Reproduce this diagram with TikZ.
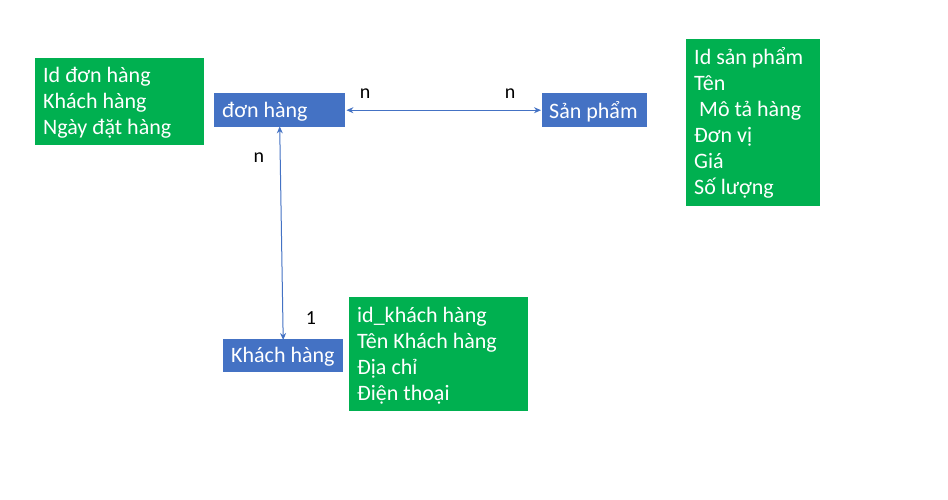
\documentclass[tikz,border=0pt]{standalone}
\usepackage{fontspec}
\setmainfont{Carlito}
\usetikzlibrary{arrows.meta}
\definecolor{gfill}{HTML}{00B050}
\definecolor{bfill}{HTML}{4472C4}
\begin{document}
\begin{tikzpicture}[x=1pt,y=-1pt,
  gbox/.style={fill=gfill,draw=none,anchor=north west,inner sep=0pt},
  bbox/.style={fill=bfill,draw=none,anchor=north west,inner sep=0pt},
  btext/.style={text=white,anchor=west,inner sep=0pt,font=\fontsize{22}{26}\selectfont},
  gtext/.style={text=white,align=left,anchor=west,inner sep=0pt,font=\fontsize{22}{26}\selectfont},
  lbl/.style={text=black,inner sep=0pt,font=\fontsize{20}{24}\selectfont},
  conn/.style={draw=bfill,line width=1pt,{Stealth[length=7pt,width=6pt]}-{Stealth[length=7pt,width=6pt]}}
]
\useasboundingbox (0,0) rectangle (948,499);
\fill[white] (0,0) rectangle (948,499);
% green attribute boxes
\node[gbox,minimum width=169pt,minimum height=87pt] (g1) at (35,58) {};
\node[gtext] (t1) at (43,103) {Id đơn hàng\\Khách hàng\\Ngày đặt hàng};
\node[gbox,minimum width=134pt,minimum height=167pt] (g2) at (686,39) {};
\node[gtext] (t2) at (694,123) {Id sản phẩm\\Tên\\\hspace{5pt}Mô tả hàng\\Đơn vị\\Giá\\Số lượng};
\node[gbox,minimum width=179pt,minimum height=114pt] (g3) at (349,297) {};
\node[gtext] (t3) at (357,356) {id\_khách hàng\\Tên Khách hàng\\Địa chỉ\\Điện thoại};
% blue entity boxes
\node[bbox,minimum width=131pt,minimum height=34pt] (dh) at (214,93) {};
\node[btext] (dht) at (222,112) {đơn hàng};
\node[bbox,minimum width=105pt,minimum height=34pt] (sp) at (542,93) {};
\node[btext] (spt) at (549,112) {Sản phẩm};
\node[bbox,minimum width=120pt,minimum height=33pt] (kh) at (223,339) {};
\node[btext] (kht) at (231,357) {Khách hàng};
% connectors
\draw[conn] ([xshift=1pt]dh.east) -- ([xshift=-1pt]sp.west);
\draw[conn] ([yshift=1pt]dh.south) -- ([yshift=-1pt]kh.north);
% cardinality labels
\node[lbl] (n1) at (365,94) {n};
\node[lbl] (n2) at (510,94) {n};
\node[lbl] (n3) at (259,158) {n};
\node[lbl] (o1) at (311,318) {1};
\end{tikzpicture}
\end{document}
